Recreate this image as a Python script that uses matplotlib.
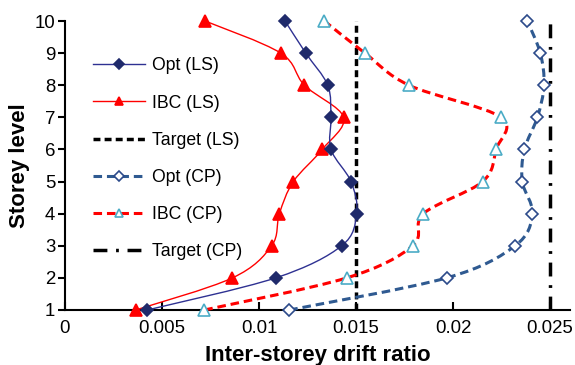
import numpy as np
import matplotlib
matplotlib.use('Agg')
from matplotlib import pyplot as plt
from matplotlib.path import Path
from matplotlib.patches import PathPatch
from matplotlib.lines import Line2D

plt.rcParams['font.family'] = ['Liberation Sans', 'DejaVu Sans']

# storey levels and drift ratios
levels = [1, 2, 3, 4, 5, 6, 7, 8, 9, 10]
opt_ls = [0.00424, 0.01086, 0.01426, 0.01503, 0.01474, 0.01371, 0.01371, 0.01354, 0.01241, 0.01134]
ibc_ls = [0.00364, 0.00863, 0.01065, 0.01105, 0.01177, 0.01326, 0.01436, 0.01234, 0.01112, 0.00722]
opt_cp = [0.01156, 0.01967, 0.02320, 0.02409, 0.02357, 0.02368, 0.02435, 0.02469, 0.02450, 0.02383]
ibc_cp = [0.00718, 0.01452, 0.01792, 0.01847, 0.02153, 0.02222, 0.02247, 0.01773, 0.01546, 0.01337]
target_ls = 0.015
target_cp = 0.025

x_ticks = [0, 0.005, 0.01, 0.015, 0.02, 0.025]
x_tick_labels = ['0', '0.005', '0.01', '0.015', '0.02', '0.025']


def smooth_path(x, y):
    # catmull-rom style curve through the points (like excel's smoothed lines)
    pts = np.column_stack([x, y])
    p = np.vstack([pts[0], pts, pts[-1]])
    verts = [pts[0]]
    codes = [Path.MOVETO]
    for i in range(1, len(p) - 2):
        c1 = p[i] + (p[i + 1] - p[i - 1]) / 6
        c2 = p[i + 1] - (p[i + 2] - p[i]) / 6
        verts += [c1, c2, p[i + 1]]
        codes += [Path.CURVE4] * 3
    return Path(verts, codes)


fig = plt.figure(figsize=(5.75, 3.65), dpi=100)
ax = fig.add_axes([65 / 575, 55 / 365, 505 / 575, 289 / 365])

red_dash = (0, (2.8, 1.6))
blue_dash = (0, (2.8, 1.6))
black_dash = (0, (2.0, 1.2))
black_dashdot = (0, (4.0, 2.5, 0.8, 2.5))

# target lines
ax.plot([target_ls, target_ls], [1, 10], color='black', lw=2.5, ls=black_dash, zorder=2)
ax.plot([target_cp, target_cp], [1, 10], color='black', lw=2.5, ls=black_dashdot, zorder=2)

series = [
    (opt_cp, '#2F5A91', 2.2, blue_dash, 'D', 'white', '#2C4A8A', 6.5, 'Opt (CP)'),
    (ibc_cp, '#FF0000', 2.2, red_dash, '^', 'white', '#4BACC6', 8, 'IBC (CP)'),
    (ibc_ls, '#FF0000', 1.0, '-', '^', '#FF0000', '#FF0000', 8, 'IBC (LS)'),
    (opt_ls, '#2E3192', 1.0, '-', 'D', '#1F2A6B', '#1F2A6B', 6.5, 'Opt (LS)'),
]
handles = {}
for vals, col, lw, ls, mk, mfc, mec, ms, name in series:
    ax.add_patch(PathPatch(smooth_path(vals, levels), facecolor='none', edgecolor=col,
                           lw=lw, linestyle=ls, zorder=3, clip_on=False))
    ax.plot(vals, levels, ls='none', marker=mk, mfc=mfc, mec=mec, mew=1.2, ms=ms,
            zorder=4, clip_on=False)
    handles[name] = Line2D([], [], color=col, lw=lw, ls=ls, marker=mk, mfc=mfc, mec=mec,
                           mew=1.2, ms=ms * 0.75)

handles['Target (LS)'] = Line2D([], [], color='black', lw=2.5, ls=black_dash)
handles['Target (CP)'] = Line2D([], [], color='black', lw=2.5, ls=black_dashdot)

order = ['Opt (LS)', 'IBC (LS)', 'Target (LS)', 'Opt (CP)', 'IBC (CP)', 'Target (CP)']
ax.legend([handles[k] for k in order], order, loc='upper left',
          bbox_to_anchor=(93 / 575, 1 - 57.5 / 365), bbox_transform=fig.transFigure,
          frameon=False, fontsize=12.7, handlelength=2.95, handletextpad=0.4,
          labelspacing=1.14, borderpad=0, borderaxespad=0)

ax.set_xlim(0, 0.02603)
ax.set_ylim(1, 10)
ax.set_xticks(x_ticks)
ax.set_xticklabels(x_tick_labels)
ax.set_yticks(levels)
ax.tick_params(axis='x', direction='in', length=6, width=1.5, labelsize=13.4, pad=7)
ax.tick_params(axis='y', direction='out', length=5, width=1.5, labelsize=13.4, pad=2)
for s in ['top', 'right']:
    ax.spines[s].set_visible(False)
for s in ['left', 'bottom']:
    ax.spines[s].set_linewidth(1.5)

ax.set_xlabel('Inter-storey drift ratio', fontsize=16, fontweight='bold', labelpad=6)
ax.set_ylabel('Storey level', fontsize=16, fontweight='bold', labelpad=3)

fig.savefig('out.png', dpi=100)
